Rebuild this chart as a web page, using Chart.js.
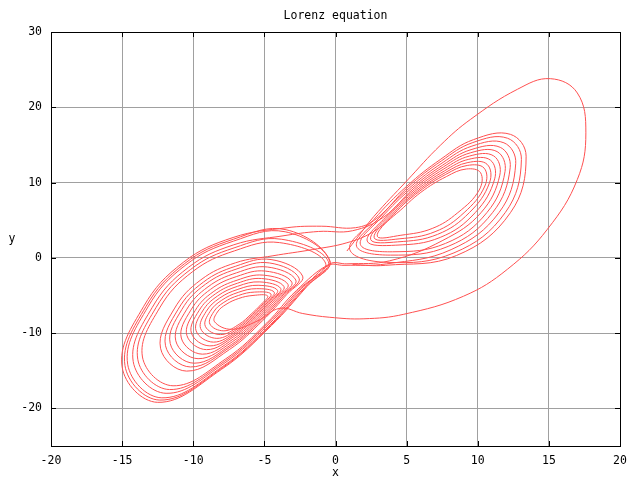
<!DOCTYPE html>
<html>
<head>
<meta charset="utf-8">
<script src="https://cdn.jsdelivr.net/npm/chart.js@4.4.1/dist/chart.umd.min.js"></script>
<style>html,body{margin:0;background:#fff}</style>
</head>
<body>
<div style="width:640px;height:480px"><canvas id="chart"></canvas></div>
<script>
// tick labels
const xTicks = [-20, -15, -10, -5, 0, 5, 10, 15, 20];
const yTicks = [-20, -10, 0, 10, 20, 30];

// trajectory, piece by piece, in drawing order
const transientPath = [[0.8,0.9],[1.5,2.6],[2.7,5.5],[5.0,10.2],[7.4,15.0],[9.5,18.4],[12.8,22.4],[15.1,23.8],[17.0,21.9],[17.6,16.6],[17.0,10.4],[14.9,3.8],[12.1,-1.5],[9.0,-5.1],[4.8,-7.5],[2.0,-8.1],[-0.4,-7.9],[-2.3,-7.4],[-3.9,-6.7]];

const leftVisit1 = [
    [-5.5,-8.4],[-7.3,-9.5],[-8.5,-8.5],[-8.3,-7.2],[-7.7,-6.2],[-6.8,-5.4],[-5.8,-5.0],
    [-4.77,-5.06],[-5.23,-6.18],[-5.93,-7.48],[-6.77,-8.82],[-7.85,-9.7],[-8.83,-8.8],[-8.56,-7.17],[-7.85,-5.92],[-6.82,-5.0],[-5.68,-4.55],
    [-4.54,-4.81],[-5.06,-6.05],[-5.85,-7.56],[-6.83,-9.13],[-8.09,-10.2],[-9.15,-9.1],[-8.82,-7.13],[-8.0,-5.64],[-6.84,-4.59],[-5.56,-4.1],
    [-4.31,-4.57],[-4.89,-5.93],[-5.78,-7.64],[-6.9,-9.45],[-8.34,-10.7],[-9.48,-9.4],[-9.08,-7.1],[-8.15,-5.36],[-6.86,-4.19],[-5.44,-3.65],
    [-4.08,-4.32],[-4.72,-5.8],[-5.7,-7.72],[-6.96,-9.76],[-8.58,-11.2],[-9.8,-9.7],[-9.34,-7.06],[-8.3,-5.08],[-6.88,-3.78],[-5.32,-3.2],
    [-3.85,-4.08],[-4.55,-5.68],[-5.63,-7.8],[-7.03,-10.08],[-8.83,-11.7],[-10.13,-10.0],[-9.6,-7.03],[-8.45,-4.8],[-6.9,-3.38],[-5.2,-2.75],
    [-3.62,-3.83],[-4.38,-5.55],[-5.55,-7.88],[-7.09,-10.39],[-9.07,-12.2],[-10.45,-10.3],[-9.86,-6.99],[-8.6,-4.52],[-6.92,-2.97],[-5.08,-2.3],
    [-3.34,-3.54],[-4.18,-5.4],[-5.46,-7.98],[-7.17,-10.77],[-9.36,-12.8],[-10.84,-10.66],[-10.17,-6.95],[-8.78,-4.18],[-6.94,-2.48],[-4.94,-1.76],
    [-3.07,-3.24],[-3.97,-5.25],[-5.37,-8.07],[-7.25,-11.15],[-9.66,-13.4],[-11.23,-11.02],[-10.48,-6.91],[-8.96,-3.85],[-6.97,-2.0],[-4.79,-1.22],
    [-2.79,-2.95],[-3.77,-5.1],[-5.28,-8.17],[-7.32,-11.52],[-9.95,-14.0],[-11.62,-11.38],[-10.8,-6.86],[-9.14,-3.51],[-6.99,-1.51],[-4.65,-0.68],
    [-2.56,-2.7],[-3.6,-4.98],[-5.2,-8.25],[-7.39,-11.84],[-10.2,-14.5],[-11.95,-11.68],[-11.06,-6.83],[-9.29,-3.23],[-7.01,-1.11],[-4.53,-0.23],
    [-2.31,-2.43],[-3.41,-4.84],[-5.12,-8.34],[-7.46,-12.19],[-10.47,-15.05],[-12.3,-12.01],[-11.34,-6.79],[-9.46,-2.92],[-7.03,-0.66],[-4.4,0.27]
];
const transit1 = [[-1.6,1.1],[0.8,2.0],[2.6,3.4]];

const rightVisit1 = [
    [4.3,5.9],[6.0,8.7],[7.8,10.8],[9.2,11.8],[10.2,11.3],[10.1,9.0],[8.6,6.0],[6.8,3.9],[4.6,3.0],
    [2.94,2.86],[4.11,5.8],[5.88,8.8],[7.75,11.08],[9.26,12.27],[10.45,11.91],[10.5,9.54],[9.04,6.0],[7.0,3.47],[4.47,2.52],
    [2.72,2.66],[3.95,5.72],[5.78,8.88],[7.71,11.31],[9.31,12.66],[10.66,12.42],[10.83,9.99],[9.41,6.0],[7.17,3.11],[4.36,2.12],
    [2.47,2.44],[3.77,5.64],[5.67,8.96],[7.67,11.56],[9.37,13.09],[10.89,12.98],[11.19,10.49],[9.82,6.0],[7.36,2.71],[4.24,1.68],
    [2.23,2.22],[3.6,5.55],[5.56,9.05],[7.62,11.81],[9.42,13.52],[11.12,13.54],[11.55,10.98],[10.23,6.0],[7.55,2.32]
];
const exit1 = [[3.8,-0.4],[0.8,-0.8],[-0.4,-0.8]];

const leftVisit2 = [
    [-2.75,-4.35],[-4.83,-8.65],[-7.71,-13.41],[-11.42,-17.0],[-13.57,-13.18],[-12.36,-6.65],[-10.04,-1.83],[-7.11,0.92],[-3.93,2.02],
    [-0.7,-0.7],[-2.58,-4.23],[-4.76,-8.73],[-7.78,-13.73],[-11.67,-17.5],[-13.9,-13.48],[-12.62,-6.62],[-10.19,-1.55],[-7.13,1.32],[-3.81,2.47],
    [-0.5,-0.5],[-2.41,-4.1],[-4.68,-8.81],[-7.84,-14.04],[-11.91,-18.0],[-14.22,-13.78],[-12.88,-6.58],[-10.34,-1.27],[-7.15,1.73],[-3.69,2.92]
];
const transit2 = [[-1.2,3.5],[1.2,3.6]];

const rightVisit2 = [
    [3.42,5.46],[5.45,9.14],[7.58,12.07],[9.48,13.95],[11.36,14.11],[11.92,11.48],[10.64,6.0],[7.74,1.92],[4.0,0.8],
    [1.75,1.78],[3.24,5.37],[5.34,9.23],[7.54,12.32],[9.53,14.37],[11.59,14.67],[12.28,11.97],[11.04,6.0],[7.92,1.52],[3.87,0.36],
    [1.48,1.54],[3.05,5.28],[5.22,9.32],[7.49,12.59],[9.59,14.84],[11.84,15.28],[12.67,12.51],[11.49,6.0],[8.13,1.09]
];
const exit2 = [[3.6,-0.8],[0.6,-1.0],[-0.5,-1.0]];

const leftVisit3 = [
    [-2.2,-3.95],[-4.59,-8.9],[-7.92,-14.42],[-12.21,-18.6],[-14.61,-14.14],[-13.19,-6.54],[-10.52,-0.94],[-7.18,2.21],[-3.54,3.46],
    [-0.4,-0.4],[-2.1,-3.88],[-4.55,-8.95],[-7.96,-14.61],[-12.35,-18.9],[-14.8,-14.32],[-13.34,-6.52],[-10.61,-0.77],[-7.19,2.46],[-3.47,3.73],
    [-0.4,-0.4],[-2.0,-3.8],[-4.5,-9.0],[-8.0,-14.8],[-12.5,-19.2],[-15.0,-14.5],[-13.5,-6.5],[-10.7,-0.6],[-7.2,2.7],[-3.4,4.0]
];
const transit3 = [[-1.0,4.2],[1.4,4.0]];

const rightVisit3 = [
    [2.86,5.18],[5.1,9.42],[7.44,12.87],[9.65,15.31],[12.09,15.89],[13.07,13.05],[11.93,6.0],[8.33,0.66],[3.61,-0.6],
    [1.0,1.1],[2.7,5.1],[5.0,9.5],[7.4,13.1],[9.7,15.7],[12.3,16.4],[13.4,13.5],[12.3,6.0],[8.5,0.3],[3.5,-1.0],[1.2,-0.9]
];

const pieces = [transientPath, leftVisit1, transit1, rightVisit1, exit1, leftVisit2, transit2,
    rightVisit2, exit2, leftVisit3, transit3, rightVisit3];
const trajectory = pieces.flat().map(p => ({ x: p[0], y: p[1] }));

const FONT = { family: '"DejaVu Sans Mono", monospace', size: 11.5 };

// gnuplot-like frame, border ticks and labels
const framePlugin = {
    id: 'frame',
    afterDraw(chart) {
        const { ctx, chartArea: a, scales } = chart;
        ctx.save();
        ctx.strokeStyle = '#000';
        ctx.lineWidth = 1;
        ctx.strokeRect(a.left + 0.5, a.top + 0.5, a.right - a.left, a.bottom - a.top);
        ctx.beginPath();
        xTicks.forEach(v => {
            const px = Math.round(scales.x.getPixelForValue(v)) + 0.5;
            ctx.moveTo(px, a.bottom); ctx.lineTo(px, a.bottom - 5);
            ctx.moveTo(px, a.top); ctx.lineTo(px, a.top + 5);
        });
        yTicks.forEach(v => {
            const py = Math.round(scales.y.getPixelForValue(v)) + 0.5;
            ctx.moveTo(a.left, py); ctx.lineTo(a.left + 5, py);
            ctx.moveTo(a.right, py); ctx.lineTo(a.right - 5, py);
        });
        ctx.stroke();

        ctx.fillStyle = '#000';
        ctx.font = `${FONT.size}px ${FONT.family}`;
        ctx.textAlign = 'center';
        ctx.textBaseline = 'middle';
        ctx.fillText('Lorenz equation', (a.left + a.right) / 2, 16);
        ctx.fillText('x', (a.left + a.right) / 2, 473);
        ctx.fillText('y', 12, (a.top + a.bottom) / 2);
        ctx.restore();
    }
};

new Chart(document.getElementById('chart'), {
    type: 'scatter',
    data: {
        datasets: [{
            data: trajectory,
            showLine: true,
            borderColor: '#ff5050',
            borderWidth: 1,
            pointRadius: 0,
            tension: 0.4,
            fill: false
        }]
    },
    options: {
        responsive: true,
        maintainAspectRatio: false,
        animation: false,
        layout: { padding: { top: 32, right: 20, left: 0, bottom: 0 } },
        plugins: {
            legend: { display: false },
            tooltip: { enabled: false }
        },
        scales: {
            x: {
                type: 'linear',
                min: -20,
                max: 20,
                afterBuildTicks: s => { s.ticks = xTicks.map(v => ({ value: v })); },
                afterFit: s => { s.height = 34; },
                ticks: { font: FONT, color: '#000', padding: 8, maxRotation: 0 },
                grid: { color: '#a0a0a0', drawTicks: false },
                border: { display: false }
            },
            y: {
                type: 'linear',
                min: -25,
                max: 30,
                afterBuildTicks: s => { s.ticks = yTicks.map(v => ({ value: v })); },
                afterFit: s => { s.width = 51; },
                ticks: { font: FONT, color: '#000', padding: 9 },
                grid: { color: '#a0a0a0', drawTicks: false },
                border: { display: false }
            }
        }
    },
    plugins: [framePlugin]
});
</script>
</body>
</html>
